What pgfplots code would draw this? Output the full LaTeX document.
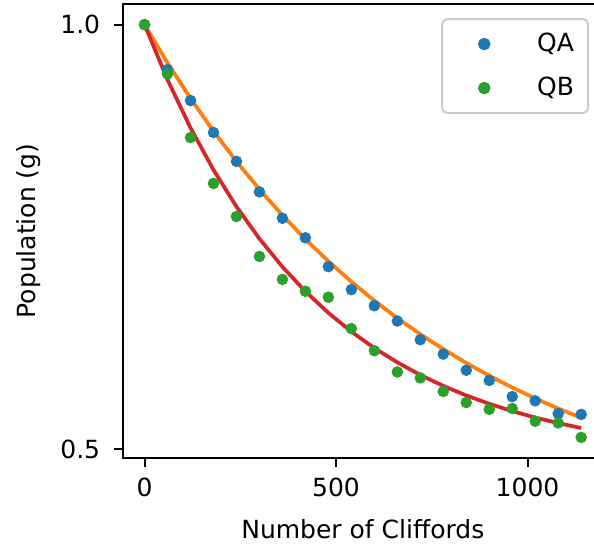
\documentclass[border=0pt]{standalone}
\usepackage{pgfplots}
\pgfplotsset{compat=1.18}
\usepackage{fontspec}
\setmainfont{DejaVu Sans}
\usetikzlibrary{calc}
\definecolor{tabblue}{HTML}{1F77B4}
\definecolor{taborange}{HTML}{FF7F0E}
\definecolor{tabgreen}{HTML}{2CA02C}
\definecolor{tabred}{HTML}{D62728}
\definecolor{leggray}{HTML}{CCCCCC}
\begin{document}
\begin{tikzpicture}
\begin{axis}[
  scale only axis, width=192.12pt, height=181.6pt,
  xmin=-57, xmax=1197, ymin=0.4897, ymax=1.0243,
  xtick={0,500,1000}, xticklabels={0,500,1000},
  ytick={0.5,1.0}, yticklabels={0.5,1.0},
  scaled x ticks=false,
  tick align=outside, major tick length=3.5pt,
  xtick pos=left, ytick pos=left,
  axis line style={line width=0.8pt},
  every tick/.style={line width=0.8pt, black},
  tick label style={font=\fontsize{10}{12}\selectfont},
  xticklabel style={yshift=-0.8pt},
  yticklabel style={xshift=-2pt},
  /pgf/number format/assume math mode=true,
  xlabel={Number of Cliffords}, ylabel={Population (g)},
  label style={font=\fontsize{10}{12}\selectfont},
  xlabel style={yshift=-2.4pt},
  ylabel style={yshift=1pt},
  legend cell align=left,
  legend style={at={(0.971,0.969)}, anchor=north east, draw=leggray, rounded corners=2pt,
    line width=0.8pt, inner xsep=5.6pt, inner ysep=1.2pt,
    nodes={inner sep=0pt}, column sep=0pt, row sep=0pt,
    font=\fontsize{10}{12}\selectfont},
  legend image code/.code={\path[draw=none,fill=none] (0pt,-8.8pt) rectangle (32.4pt,8.8pt); \draw[#1,only marks] plot coordinates {(11.2pt,0pt)};},
]
\addplot[only marks, mark=*, mark size=2.1pt, color=tabblue, mark options={draw=none, fill=tabblue}] coordinates {
(0,1.000) (60,0.947) (120,0.9106) (180,0.873) (240,0.839) (300,0.803) (360,0.772) (420,0.749) (480,0.715) (540,0.688)
(600,0.669) (660,0.651) (720,0.629) (780,0.612) (840,0.593) (900,0.581) (960,0.562) (1020,0.557) (1080,0.542) (1140,0.541)};
\addlegendentry{QA}
\addplot[forget plot, color=taborange, line width=1.5pt] coordinates {
(0,1.000) (60,0.9549) (120,0.9132) (180,0.8746) (240,0.8389) (300,0.8060) (360,0.7755) (420,0.7473) (480,0.7213) (540,0.6972)
(600,0.6750) (660,0.6544) (720,0.6354) (780,0.6179) (840,0.6016) (900,0.5866) (960,0.5727) (1020,0.5599) (1080,0.5480) (1140,0.5371)};
\addplot[only marks, mark=*, mark size=2.1pt, color=tabgreen, mark options={draw=none, fill=tabgreen}] coordinates {
(0,1.000) (60,0.942) (120,0.867) (180,0.813) (240,0.774) (300,0.727) (360,0.700) (420,0.686) (480,0.679) (540,0.642)
(600,0.616) (660,0.591) (720,0.584) (780,0.568) (840,0.555) (900,0.547) (960,0.548) (1020,0.533) (1080,0.531) (1140,0.514)};
\addlegendentry{QB}
\addplot[forget plot, color=tabred, line width=1.5pt] coordinates {
(0,1.000) (60,0.9352) (120,0.8785) (180,0.8290) (240,0.7857) (300,0.7479) (360,0.7148) (420,0.6859) (480,0.6606) (540,0.6385)
(600,0.6192) (660,0.6023) (720,0.5875) (780,0.5746) (840,0.5634) (900,0.5535) (960,0.5449) (1020,0.5373) (1080,0.5308) (1140,0.5250)};
\end{axis}
\pgfresetboundingbox
\useasboundingbox ($(current axis.south west)+(-49.08pt,-35.2pt)$) rectangle ($(current axis.south west)+(188.52pt,183.2pt)$);
\end{tikzpicture}
\end{document}
